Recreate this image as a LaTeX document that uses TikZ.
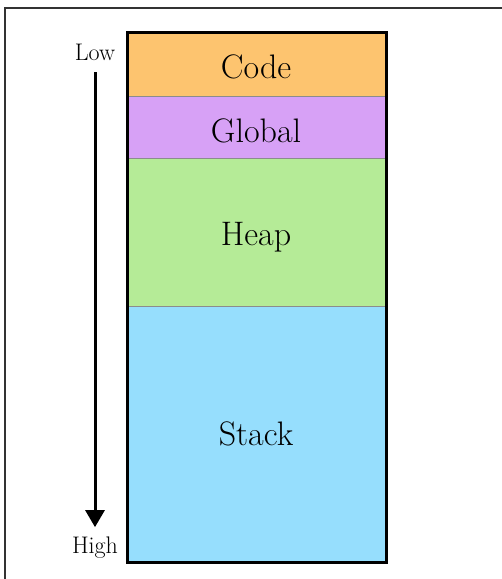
\documentclass[tikz,border=0pt]{standalone}
\usepackage{fontspec}
\usetikzlibrary{arrows.meta}
\definecolor{codecol}{HTML}{FDC46F}
\definecolor{globalcol}{HTML}{D7A1F6}
\definecolor{heapcol}{HTML}{B5EB97}
\definecolor{stackcol}{HTML}{96DEFD}
\begin{document}
\begin{tikzpicture}[x=1pt, y=-1pt,
		region/.style={rectangle, draw=black!45, line width=1pt, minimum width=259pt, inner sep=0pt, outer sep=0pt},
		seglabel/.style={anchor=base, inner sep=0pt, font=\fontsize{34}{40}\selectfont},
		endlabel/.style={anchor=base, inner sep=0pt, font=\fontsize{24}{28}\selectfont}]
		
		\useasboundingbox (0,0) rectangle (502,579);
		
		% frame
		\draw[black!80, line width=1.2pt] (502,8) -- (5,8) -- (5,579);
		
		% regions
		\node[region, fill=codecol, minimum height=64pt] (code) at (256.5,64) {};
		\node[region, fill=globalcol, minimum height=62pt] (global) at (256.5,127) {};
		\node[region, fill=heapcol, minimum height=148pt] (heap) at (256.5,232) {};
		\node[region, fill=stackcol, minimum height=256pt] (stack) at (256.5,434) {};
		\draw[line width=3pt] (code.north west) rectangle (stack.south east);
		
		% region labels
		\node[seglabel] (codetext) at (256,78) {Code};
		\node[seglabel] (globaltext) at (256,142) {Global};
		\node[seglabel] (heaptext) at (256,245) {Heap};
		\node[seglabel] (stacktext) at (256,445) {Stack};
		
		% address direction
		\node[endlabel] (low) at (95,60) {Low};
		\node[endlabel] (high) at (95,553) {High};
		\draw[line width=3pt, -{Triangle[width=19pt, length=17pt]}, shorten <=12pt, shorten >=9pt] (low.south) -- (high.north);
		
	\end{tikzpicture}
\end{document}
